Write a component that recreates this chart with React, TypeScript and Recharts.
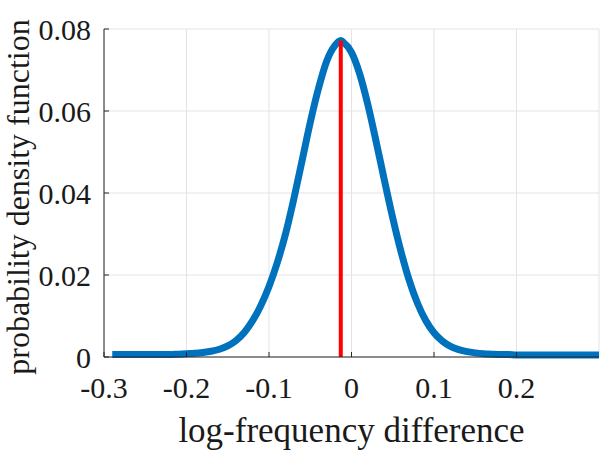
import * as React from "react";
import {
  LineChart,
  Line,
  XAxis,
  YAxis,
  CartesianGrid,
  ReferenceLine,
  Label,
} from "recharts";

const xValues = [
  -0.29, -0.28, -0.27, -0.26, -0.25, -0.24, -0.23, -0.22, -0.21,
  -0.2, -0.19, -0.18, -0.17, -0.16, -0.15, -0.14, -0.13, -0.12, -0.11,
  -0.1, -0.09, -0.08, -0.07, -0.06, -0.05, -0.04, -0.03, -0.02, -0.013,
  -0.01, 0, 0.01, 0.02, 0.03, 0.04, 0.05, 0.06, 0.07, 0.08,
  0.09, 0.1, 0.11, 0.12, 0.13, 0.14, 0.15, 0.16, 0.17, 0.18,
  0.19, 0.2, 0.21, 0.22, 0.23, 0.24, 0.25, 0.26, 0.27, 0.28,
  0.29, 0.3,
];

const pdfValues = [
  0.0006, 0.0006, 0.0006, 0.0006, 0.0006, 0.0006, 0.0006, 0.0006, 0.0007,
  0.0008, 0.0009, 0.0011, 0.0014, 0.0019, 0.0027, 0.004, 0.006, 0.0088, 0.0125,
  0.0172, 0.023, 0.03, 0.0385, 0.0478, 0.0572, 0.0655, 0.0722, 0.076, 0.0772,
  0.0768, 0.0743, 0.069, 0.0614, 0.0524, 0.043, 0.0339, 0.0257, 0.0187, 0.0131,
  0.0089, 0.0059, 0.0039, 0.0026, 0.0018, 0.0013, 0.001, 0.0008, 0.0007, 0.0006,
  0.0006, 0.0005, 0.0005, 0.0005, 0.0005, 0.0005, 0.0005, 0.0005, 0.0005, 0.0005,
  0.0005, 0.0005,
];

const peakX = -0.013;
const peakY = 0.0772;

const xTicks = [-0.3, -0.2, -0.1, 0, 0.1, 0.2];
const yTicks = [0, 0.02, 0.04, 0.06, 0.08];

const data = xValues.map((x, i) => ({ x, pdf: pdfValues[i] }));

const FONT = "'Liberation Serif', 'Times New Roman', serif";
const AXIS = "#262626";
const TEXT = "#1a1a1a";

export default function App() {
  const tickStyle = { fontFamily: FONT, fontSize: 30, fill: TEXT };
  return (
    <div style={{ position: "absolute", left: 0, top: 0, width: 600, height: 450, background: "#fff" }}>
      <LineChart
        width={600}
        height={450}
        data={data}
        margin={{ top: 29, right: 1, bottom: 0, left: 0 }}
      >
        <CartesianGrid stroke="#e3e3e3" strokeWidth={1} />
        <XAxis
          dataKey="x"
          type="number"
          domain={[-0.3, 0.3]}
          ticks={xTicks}
          allowDataOverflow
          height={93}
          tick={tickStyle}
          tickFormatter={(v) => String(v)}
          stroke={AXIS}
          tickSize={-5}
          tickMargin={25}
        >
          <Label
            value="log-frequency difference"
            position="insideBottom"
            offset={8}
            style={{ fontFamily: FONT, fontSize: 35, fill: TEXT }}
          />
        </XAxis>
        <XAxis
          xAxisId="top"
          dataKey="x"
          type="number"
          orientation="top"
          domain={[-0.3, 0.3]}
          ticks={xTicks}
          height={0}
          tickFormatter={() => ""}
          stroke={AXIS}
          tickSize={-5}
        />
        <YAxis
          type="number"
          domain={[0, 0.08]}
          ticks={yTicks}
          width={104}
          tick={tickStyle}
          tickFormatter={(v) => String(v)}
          stroke={AXIS}
          tickSize={-5}
          tickMargin={18}
        >
          <Label
            content={(props: any) => {
              const vb = props.viewBox || {};
              const cy = (vb.y ?? 29) + (vb.height ?? 328) / 2 + 4;
              const cx = 29;
              return (
                <text
                  x={cx}
                  y={cy}
                  transform={`rotate(-90, ${cx}, ${cy})`}
                  textAnchor="middle"
                  style={{ fontFamily: FONT, fontSize: 32, fill: TEXT }}
                >
                  probability density function
                </text>
              );
            }}
          />
        </YAxis>
        <YAxis
          yAxisId="right"
          orientation="right"
          type="number"
          domain={[0, 0.08]}
          ticks={yTicks}
          width={0}
          tickFormatter={() => ""}
          stroke={AXIS}
          tickSize={-5}
        />
        <Line
          type="monotone"
          dataKey="pdf"
          stroke="#0072BD"
          strokeWidth={7}
          dot={false}
          isAnimationActive={false}
        />
        <ReferenceLine
          segment={[
            { x: peakX, y: 0 },
            { x: peakX, y: peakY },
          ]}
          stroke="#FF0000"
          strokeWidth={4}
        />
      </LineChart>
    </div>
  );
}
